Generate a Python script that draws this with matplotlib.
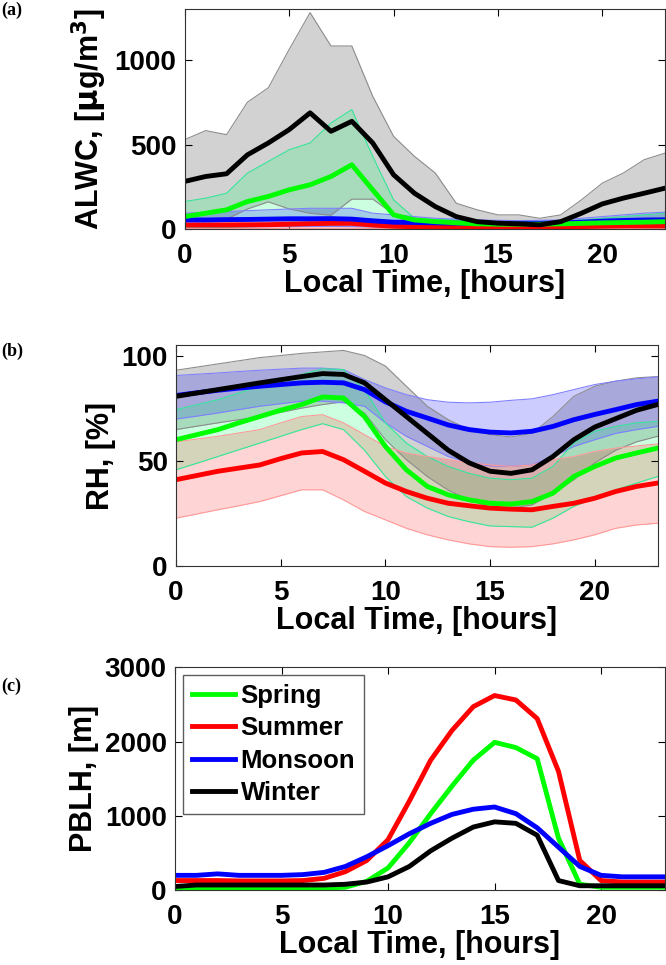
import matplotlib
matplotlib.use("Agg")
import matplotlib.pyplot as plt
import numpy as np

plt.rcParams['font.family'] = ['Liberation Sans', 'DejaVu Sans']
plt.rcParams['font.weight'] = 'bold'
plt.rcParams['mathtext.default'] = 'bf'

hours = np.arange(24)

# (a) ALWC, ug/m3 : mean, upper, lower
alwc_winter = [283, 312, 328, 440, 510, 589, 688, 579, 638, 510, 322, 213,
               134, 75, 45, 36, 32, 26, 45, 95, 150, 184, 213, 243]
alwc_winter_hi = [530, 583, 559, 751, 836, 1063, 1280, 1083, 1083, 786, 549, 431,
                  332, 154, 115, 85, 85, 65, 85, 174, 273, 332, 411, 450]
alwc_winter_lo = [0, 20, 60, 120, 162, 120, 95, 83, 178, 178, 90, 10,
                  0, 0, 0, 0, 0, 0, 0, 0, 0, 0, 0, 0]
alwc_spring = [75, 95, 115, 164, 194, 233, 263, 312, 381, 233, 85, 55,
               45, 38, 32, 30, 30, 30, 32, 35, 38, 40, 42, 45]
alwc_spring_hi = [164, 184, 213, 332, 401, 470, 510, 628, 707, 431, 174, 65,
                  59, 55, 45, 45, 45, 45, 45, 55, 65, 75, 85, 95]
alwc_spring_lo = [8, 10, 12, 15, 18, 20, 22, 25, 28, 20, 10, 5,
                  3, 2, 2, 2, 2, 2, 2, 3, 4, 5, 6, 7]
alwc_monsoon = [55, 55, 57, 58, 60, 62, 62, 63, 60, 50, 42, 40,
                38, 36, 35, 35, 35, 35, 38, 42, 48, 52, 55, 56]
alwc_monsoon_hi = [95, 100, 105, 110, 115, 120, 124, 124, 124, 95, 85, 75,
                   65, 60, 55, 53, 51, 53, 55, 65, 75, 85, 95, 101]
alwc_monsoon_lo = [15, 15, 15, 15, 16, 16, 17, 17, 16, 14, 12, 10,
                   10, 10, 10, 10, 10, 10, 10, 11, 12, 13, 14, 15]
alwc_summer = [25, 25, 25, 26, 27, 30, 33, 35, 35, 25, 18, 15,
               15, 15, 15, 15, 15, 15, 15, 16, 18, 20, 20, 20]
alwc_summer_hi = [40, 40, 40, 42, 44, 48, 52, 55, 55, 40, 30, 26,
                  25, 25, 25, 25, 25, 25, 25, 27, 30, 34, 36, 38]
alwc_summer_lo = [5, 5, 5, 5, 5, 6, 6, 6, 6, 5, 4, 3,
                  3, 3, 3, 3, 3, 3, 3, 3, 4, 4, 4, 4]

# (b) RH, % : mean, upper, lower
rh_winter = [80.6, 82.2, 83.8, 85.4, 87, 88.5, 90, 91.4, 91, 87, 79, 71,
             63, 55, 49, 45, 44, 45.7, 52, 60, 66, 70, 74, 76.7]
rh_winter_hi = [93, 94.5, 96, 97.5, 99, 100, 101, 101.7, 102.4, 100, 95, 85.4,
                75.9, 69.5, 64.8, 62.4, 61.3, 63, 71, 80.6, 85.4, 87.8, 89.4, 90]
rh_winter_lo = [64.8, 66.4, 68, 69.5, 71, 73, 75, 76.7, 78, 72.7, 60, 50.5,
                42.5, 36, 31.4, 28, 27.5, 29, 34.6, 41, 49, 55, 59, 61.6]
rh_monsoon = [81, 82.3, 83.5, 84.5, 85.4, 86.2, 87, 87.3, 87, 83.8, 78, 73.5,
              70.3, 67, 64.8, 63.6, 63.2, 64, 66.3, 69.5, 72, 74.3, 76.7, 78.3]
rh_monsoon_hi = [90.5, 91.1, 91.7, 92.4, 93, 93.5, 94, 94, 93.3, 88.6, 84.6, 81.4,
                 79, 77.8, 77.5, 77.8, 78.7, 79.4, 81.4, 83.8, 86.2, 87.8, 88.9, 89.8]
rh_monsoon_lo = [69.8, 71.2, 72.7, 74.3, 75.9, 77.1, 78.3, 78.3, 77.5, 75.9, 68, 61.6,
                 56.8, 52, 49, 47.6, 47.3, 48, 52, 56.8, 60, 63, 64.8, 66.3]
rh_spring = [60, 62.4, 64.8, 68, 71, 74, 76.7, 80.3, 79.8, 71, 56.8, 45.7,
             37.8, 33.8, 31.4, 29.8, 29.4, 30.6, 34.6, 42.5, 47.3, 51.3, 53.7, 56]
rh_spring_hi = [74.3, 76.6, 79, 82.2, 85.4, 88.2, 91, 93.7, 93.3, 83.8, 68, 58.4,
                52, 47.3, 44, 41.7, 41, 41.7, 47.3, 58.4, 64, 66.3, 68, 68.7]
rh_spring_lo = [45.7, 48.8, 52, 55.2, 58.4, 61.6, 64.8, 67.6, 64.8, 55, 42.5, 33,
                27.5, 23.5, 21, 19, 18.7, 18.4, 22.7, 28.3, 32.2, 36.2, 39.4, 42.5]
rh_summer = [41, 43, 45, 46.5, 48, 51, 53.7, 54.4, 50.5, 45, 39.4, 35.4,
             32.2, 29.8, 28.6, 27.5, 27, 26.7, 28.3, 29.8, 32.2, 35.4, 37.8, 39.4]
rh_summer_hi = [59, 60.3, 61.6, 63.2, 64.8, 68, 71, 71.9, 68, 62.4, 56.8, 53.7,
                52, 50.5, 49, 48, 47.3, 48, 50.5, 52, 54.4, 56, 57, 58]
rh_summer_lo = [22.7, 24.7, 26.7, 28.6, 30.6, 33.4, 36.2, 36.2, 31.4, 25.9, 21.9, 17.9,
                14.8, 12.4, 10.5, 9.2, 8.9, 9.2, 10.5, 12.4, 14.8, 17.9, 19.5, 20.3]

# (c) PBLH, m
pblh_spring = [30, 30, 30, 30, 30, 30, 30, 30, 40, 120, 300, 640,
               1030, 1400, 1750, 1990, 1920, 1770, 700, 80, 40, 40, 40, 40]
pblh_summer = [130, 130, 130, 125, 125, 125, 130, 160, 250, 400, 680, 1200,
               1750, 2150, 2470, 2620, 2560, 2310, 1600, 400, 130, 110, 110, 110]
pblh_monsoon = [200, 200, 220, 200, 200, 200, 210, 240, 320, 450, 600, 760,
                900, 1020, 1090, 1120, 1030, 840, 580, 320, 200, 180, 180, 180]
pblh_winter = [50, 70, 70, 70, 70, 70, 70, 70, 80, 110, 180, 320,
               530, 700, 850, 920, 900, 740, 130, 60, 60, 60, 60, 60]

seasons = ['Spring', 'Summer', 'Monsoon', 'Winter']
line_col = {'Spring': '#00ff00', 'Summer': '#ff0000', 'Monsoon': '#0000ff', 'Winter': '#000000'}
fill_col = {'Spring': '#00ff66', 'Summer': '#ff0000', 'Monsoon': '#0000ff', 'Winter': '#808080'}
fill_alpha = {'Spring': 0.2, 'Summer': 0.17, 'Monsoon': 0.2, 'Winter': 0.35}
edge_col = {'Spring': '#33e699', 'Summer': '#ff9999', 'Monsoon': '#8080ff', 'Winter': '#8c8c8c'}

fig = plt.figure(figsize=(6.66, 9.65), dpi=100)
ax_a = fig.add_axes([0.2775, 0.7624, 0.721, 0.228])
ax_b = fig.add_axes([0.2643, 0.4135, 0.7231, 0.229])
ax_c = fig.add_axes([0.2628, 0.0775, 0.7357, 0.231])


def band(ax, s, lo, hi):
    ax.fill_between(hours, lo, hi, color=fill_col[s], alpha=fill_alpha[s], lw=0)
    ax.plot(hours, hi, color=edge_col[s], lw=0.8)
    ax.plot(hours, lo, color=edge_col[s], lw=0.8)


# panel a
band(ax_a, 'Winter', alwc_winter_lo, alwc_winter_hi)
band(ax_a, 'Spring', alwc_spring_lo, alwc_spring_hi)
band(ax_a, 'Monsoon', alwc_monsoon_lo, alwc_monsoon_hi)
band(ax_a, 'Summer', alwc_summer_lo, alwc_summer_hi)
ax_a.plot(hours, alwc_summer, color=line_col['Summer'], lw=3.5)
ax_a.plot(hours, alwc_monsoon, color=line_col['Monsoon'], lw=3.5)
ax_a.plot(hours, alwc_spring, color=line_col['Spring'], lw=3.5)
ax_a.plot(hours, alwc_winter, color=line_col['Winter'], lw=3.5)
ax_a.set_ylim(0, 1300)
ax_a.set_yticks([0, 500, 1000])
ax_a.set_ylabel(r'ALWC, [$\mu$g/m$^3$]', fontsize=22, fontweight='bold')

# panel b
band(ax_b, 'Winter', rh_winter_lo, rh_winter_hi)
band(ax_b, 'Monsoon', rh_monsoon_lo, rh_monsoon_hi)
band(ax_b, 'Spring', rh_spring_lo, rh_spring_hi)
band(ax_b, 'Summer', rh_summer_lo, rh_summer_hi)
ax_b.plot(hours, rh_summer, color=line_col['Summer'], lw=3.5)
ax_b.plot(hours, rh_spring, color=line_col['Spring'], lw=3.5)
ax_b.plot(hours, rh_monsoon, color=line_col['Monsoon'], lw=3.5)
ax_b.plot(hours, rh_winter, color=line_col['Winter'], lw=3.5)
ax_b.set_ylim(0, 105)
ax_b.set_yticks([0, 50, 100])
ax_b.set_ylabel('RH, [%]', fontsize=22, fontweight='bold')

# panel c
for s, vals in zip(seasons, [pblh_spring, pblh_summer, pblh_monsoon, pblh_winter]):
    ax_c.plot(hours, vals, color=line_col[s], lw=3.5, label=s)
ax_c.set_ylim(0, 3000)
ax_c.set_yticks([0, 1000, 2000, 3000])
ax_c.set_ylabel('PBLH, [m]', fontsize=22, fontweight='bold')
leg = ax_c.legend(loc='upper left', fontsize=18.5, fancybox=False, edgecolor='#333333',
                  handlelength=1.7, handletextpad=0.2, borderpad=0.35, labelspacing=0.33,
                  borderaxespad=0.3)
leg.get_frame().set_linewidth(1.0)
for t in leg.get_texts():
    t.set_fontweight('bold')

for ax in [ax_a, ax_b, ax_c]:
    ax.set_xlim(0, 23)
    ax.set_xticks([0, 5, 10, 15, 20])
    ax.set_xlabel('Local Time, [hours]', fontsize=22, fontweight='bold', labelpad=0)
    ax.tick_params(direction='in', top=True, right=True, labelsize=20, length=5,
                   width=0.8)
    ax.tick_params(axis='x', pad=10)
    ax.tick_params(axis='y', pad=6)
    for tl in ax.get_xticklabels() + ax.get_yticklabels():
        tl.set_fontweight('bold')
    for sp in ax.spines.values():
        sp.set_linewidth(0.8)
        sp.set_color('#333333')

fig.text(0.002, 0.998, '(a)', fontsize=13, fontweight='bold', family='Liberation Serif', va='top')
fig.text(0.002, 0.645, '(b)', fontsize=13, fontweight='bold', family='Liberation Serif', va='top')
fig.text(0.002, 0.298, '(c)', fontsize=13, fontweight='bold', family='Liberation Serif', va='top')

fig.savefig('out.png', dpi=100)
